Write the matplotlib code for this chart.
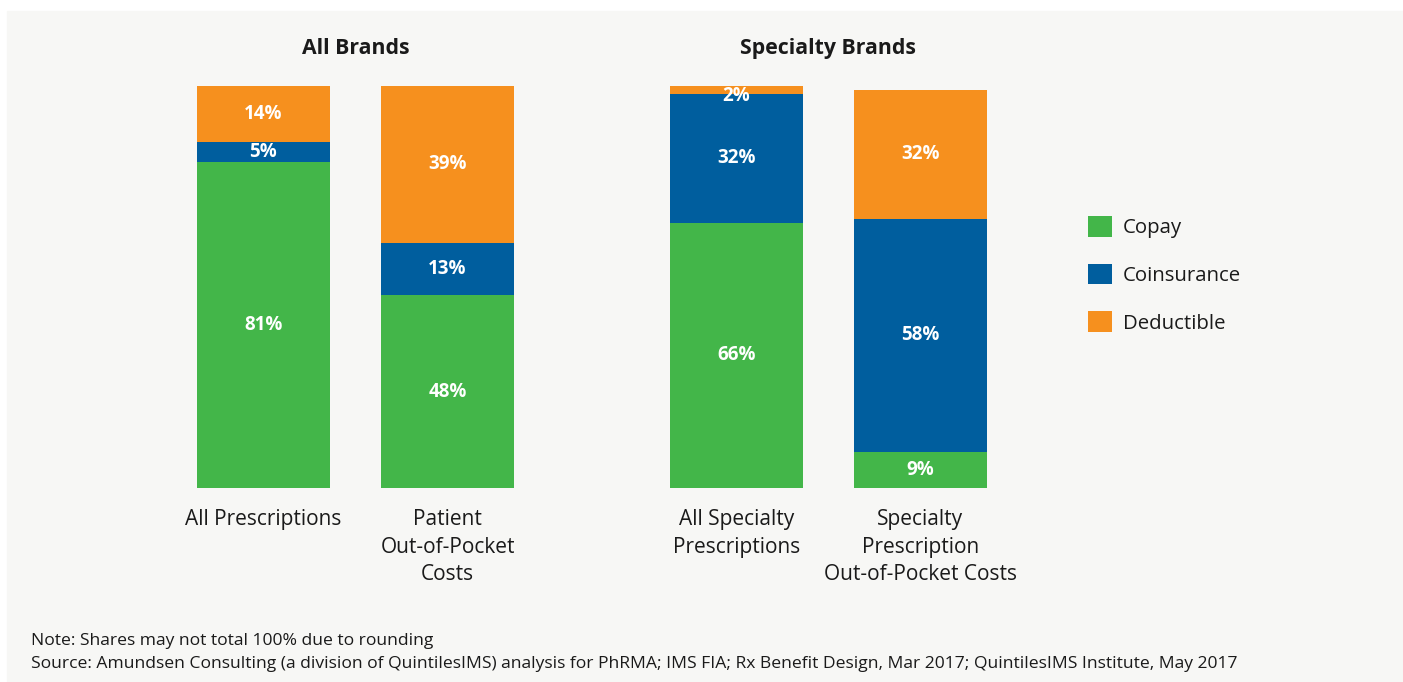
import matplotlib
matplotlib.use('Agg')
import matplotlib.pyplot as plt
from matplotlib.patches import Rectangle
import numpy as np

# data (percent of each bar)
categories = ['All Prescriptions', 'Patient\nOut-of-Pocket\nCosts',
              'All Specialty\nPrescriptions',
              'Specialty\nPrescription\nOut-of-Pocket Costs']
copay = [81, 48, 66, 9]
coinsurance = [5, 13, 32, 58]
deductible = [14, 39, 2, 32]
series_names = ['Copay', 'Coinsurance', 'Deductible']
group_titles = ['All Brands', 'Specialty Brands']

colors = ['#43b649', '#005e9e', '#f6901e']
bg = '#f7f7f5'
txt = '#1a1a1a'

plt.rcParams['font.family'] = ['Open Sans', 'DejaVu Sans']

W, H = 1403, 682
fig = plt.figure(figsize=(W / 100, H / 100), dpi=100, facecolor='white')
fig.patches.append(Rectangle((7 / W, 0), 1 - 7 / W, 1 - 11 / H,
                             transform=fig.transFigure, color=bg, zorder=-10))

# bars sit in pairs with a wider gap between the two groups
x = np.array([0, 1, 2.57, 3.57])
unit = 184  # px per x unit
ppy = 4.02  # px per percent
x0, x1 = -0.5, 4.07
y0, y1 = 0, 105
left_px = 263.5 + x0 * unit
ax = fig.add_axes([left_px / W, (H - 488) / H,
                   (x1 - x0) * unit / W, (y1 - y0) * ppy / H])
ax.set_xlim(x0, x1)
ax.set_ylim(y0, y1)
ax.set_facecolor('none')
for s in ax.spines.values():
    s.set_visible(False)
ax.set_yticks([])

bottom = np.zeros(len(x))
handles = []
for vals, name, c in zip([copay, coinsurance, deductible], series_names, colors):
    vals = np.array(vals, dtype=float)
    b = ax.bar(x, vals, width=0.723, bottom=bottom, color=c, label=name,
               clip_on=False)
    handles.append(b)
    for xi, v, bt in zip(x, vals, bottom):
        if v < 4:
            ax.text(xi, bt + v, f'{v:.0f}%', ha='center', va='top',
                    color='white', fontsize=13.5, fontweight='bold')
        else:
            ax.text(xi, bt + v / 2, f'{v:.0f}%', ha='center', va='center',
                    color='white', fontsize=13.5, fontweight='bold')
    bottom += vals

ax.set_xticks(x)
ax.set_xticklabels(categories, fontsize=15, color=txt, linespacing=1.42)
ax.tick_params(axis='x', length=0, pad=15)

for k, t in enumerate(group_titles):
    mid = (x[2 * k] + x[2 * k + 1]) / 2
    ax.text(mid, (488 - 49) / ppy, t, ha='center', va='center',
            fontsize=15.3, fontweight='bold', color=txt)

leg = fig.legend(handles=handles, loc='upper left',
                 bbox_to_anchor=(1088 / W, 1 - 216 / H), frameon=False,
                 fontsize=14.7, handlelength=1.17, handleheight=1.17,
                 handletextpad=0.55, labelspacing=1.25, borderaxespad=0,
                 borderpad=0)
for t in leg.get_texts():
    t.set_color(txt)

fig.text(31 / W, 1 - 645 / H, 'Note: Shares may not total 100% due to rounding',
         fontsize=12.6, color=txt, va='baseline')
fig.text(31 / W, 1 - 668 / H,
         'Source: Amundsen Consulting (a division of QuintilesIMS) analysis for PhRMA; '
         'IMS FIA; Rx Benefit Design, Mar 2017; QuintilesIMS Institute, May 2017',
         fontsize=12.6, color=txt, va='baseline')

fig.savefig('out.png', dpi=100, facecolor='white')
